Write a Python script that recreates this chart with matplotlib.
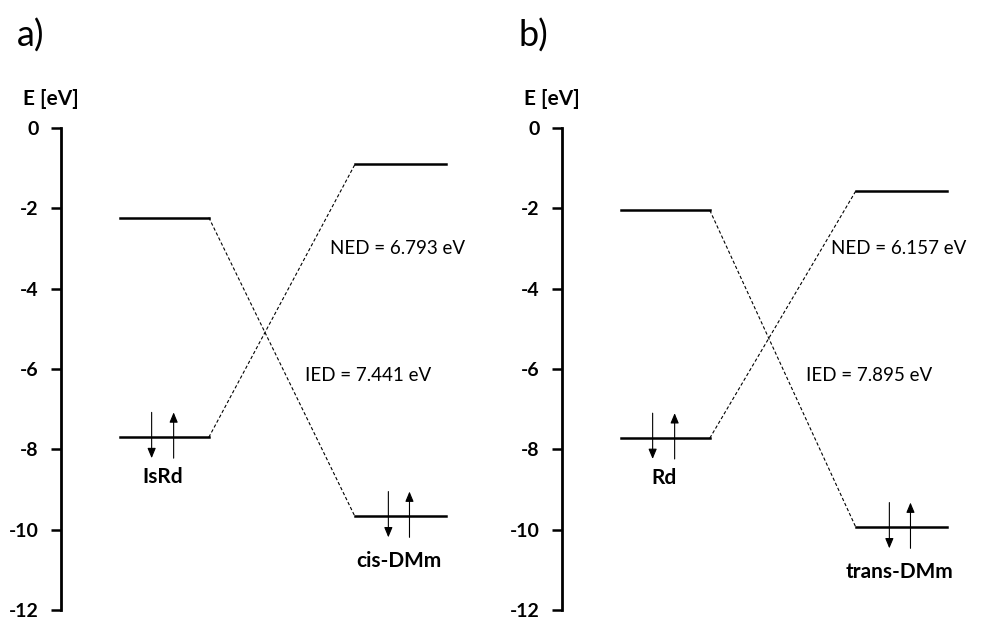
import matplotlib.pyplot as plt

plt.rcParams['font.family'] = ['Lato', 'DejaVu Sans']

# orbital energies [eV]
panels = ['a)', 'b)']
left_names = ['IsRd', 'Rd']
right_names = ['cis-DMm', 'trans-DMm']
left_lumo = [-2.23, -2.05]
left_homo = [-7.70, -7.72]
right_lumo = [-0.907, -1.563]
right_homo = [-9.671, -9.945]
ned = [6.793, 6.157]
ied = [7.441, 7.895]
yticks = [0, -2, -4, -6, -8, -10, -12]

fig = plt.figure(figsize=(9.88, 6.19), dpi=100)

lx = (0.67, 1.68)   # left level span
rx = (3.34, 4.37)   # right level span


def spin_pair(ax, xd, xu, level):
    kw = dict(arrowstyle='-|>,head_length=0.6,head_width=0.25', lw=0.8,
              color='black', shrinkA=0, shrinkB=0)
    ax.annotate('', xy=(xd, level - 0.52), xytext=(xd, level + 0.62),
                arrowprops=kw, annotation_clip=False)
    ax.annotate('', xy=(xu, level + 0.62), xytext=(xu, level - 0.52),
                arrowprops=kw, annotation_clip=False)


for i in range(2):
    x0 = [61, 562][i] / 988
    ax = fig.add_axes([x0, 9 / 619, 409 / 988, 482 / 619])
    ax.set_xlim(0, 409 / 88)
    ax.set_ylim(-12, 0)

    ax.plot(lx, [left_lumo[i]] * 2, color='black', lw=1.8)
    ax.plot(lx, [left_homo[i]] * 2, color='black', lw=1.8)
    ax.plot(rx, [right_lumo[i]] * 2, color='black', lw=1.8)
    ax.plot(rx, [right_homo[i]] * 2, color='black', lw=1.8)
    ax.plot([lx[1], rx[0]], [left_lumo[i], right_homo[i]], color='black',
            lw=0.8, ls=(0, (3, 2)))
    ax.plot([lx[1], rx[0]], [left_homo[i], right_lumo[i]], color='black',
            lw=0.8, ls=(0, (3, 2)))

    spin_pair(ax, 1.03, 1.28, left_homo[i])
    spin_pair(ax, 3.72, 3.96, right_homo[i])

    ax.text(1.16, left_homo[i] - 1.0, left_names[i], ha='center', va='center',
            fontsize=15, fontweight='bold')
    ax.text(3.84, right_homo[i] - 1.1, right_names[i], ha='center',
            va='center', fontsize=15, fontweight='bold')
    ax.text(3.06, -3.0, 'NED = %.3f eV' % ned[i], ha='left', va='center',
            fontsize=13.5)
    ax.text(2.77, -6.17, 'IED = %.3f eV' % ied[i], ha='left', va='center',
            fontsize=13.5)

    for s in ['top', 'right', 'bottom']:
        ax.spines[s].set_visible(False)
    ax.spines['left'].set_linewidth(2)
    ax.set_xticks([])
    ax.set_yticks(yticks)
    ax.set_yticklabels([str(t) for t in yticks], fontweight='bold',
                       fontsize=14)
    ax.tick_params(axis='y', direction='out', length=7, width=1.8, pad=9)

    fig.text(x0 - 10 / 988, 1 - 99 / 619, 'E [eV]', ha='center',
             va='center', fontsize=15, fontweight='bold')
    fig.text(x0 - 44 / 988, 1 - 36 / 619, panels[i], ha='left', va='center',
             fontsize=26)

fig.savefig('out.png', dpi=100)
